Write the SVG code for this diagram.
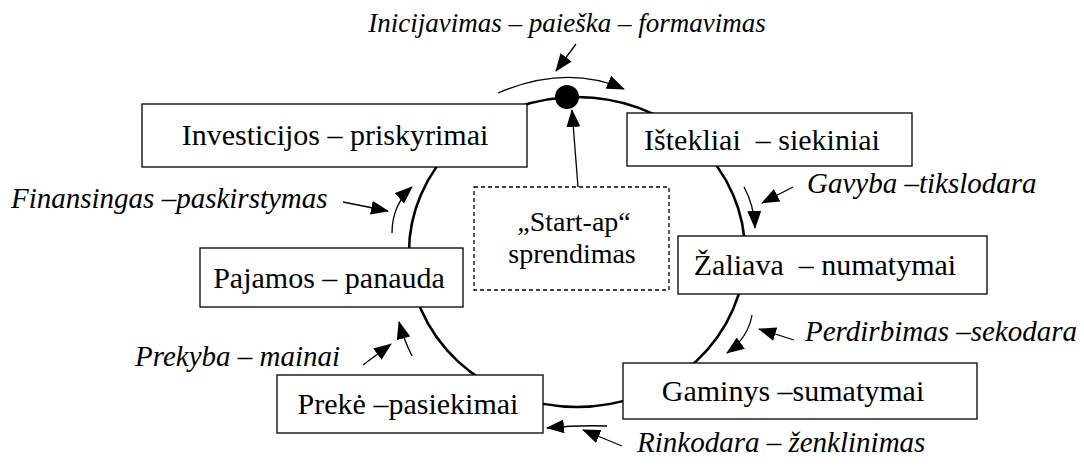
<svg xmlns="http://www.w3.org/2000/svg" width="1084" height="466" viewBox="0 0 1084 466">
<defs>
<style>
.box{fill:#fff;stroke:#000;stroke-width:1.3}
.dash{fill:#fff;stroke:#000;stroke-width:1.3;stroke-dasharray:4 3}
.t{font-family:"Liberation Serif","Times New Roman",serif;font-size:30px;fill:#000}
.s{font-family:"Liberation Serif","Times New Roman",serif;font-size:28px;fill:#000}
.i{font-family:"Liberation Serif","Times New Roman",serif;font-size:29px;font-style:italic;fill:#000}
.c{text-anchor:middle}
.ln{fill:none;stroke:#000;stroke-width:1.3}
</style>
<marker id="ah" markerUnits="userSpaceOnUse" markerWidth="18" markerHeight="14" viewBox="0 0 18 14" refX="17" refY="7" orient="auto">
<path d="M0,0 L18,7 L0,14 Z" fill="#000"/>
</marker>
</defs>
<g id="cycle">
<ellipse cx="577" cy="252" rx="168" ry="155" fill="none" stroke="#000" stroke-width="2.6"/>
</g>
<g id="title"><text class="i c" x="567" y="32" style="font-size:27px">Inicijavimas – paieška – formavimas</text></g>
<g id="start">
<circle cx="567" cy="97" r="12" fill="#000"/>
</g>
<g id="investicijos"><rect class="box" x="142" y="104" width="385" height="63"/><text class="t c" x="335" y="145">Investicijos – priskyrimai</text></g>
<g id="istekliai"><rect class="box" x="627" y="113" width="285" height="53"/><text class="t c" x="762" y="150" xml:space="preserve">Ištekliai  – siekiniai</text></g>
<g id="zaliava"><rect class="box" x="678" y="236" width="309" height="58"/><text class="t c" x="825" y="275" xml:space="preserve">Žaliava  – numatymai</text></g>
<g id="gaminys"><rect class="box" x="623" y="363" width="354" height="56"/><text class="t c" x="793" y="401">Gaminys –sumatymai</text></g>
<g id="preke"><rect class="box" x="277" y="375" width="266" height="58"/><text class="t c" x="408" y="414">Prekė –pasiekimai</text></g>
<g id="pajamos"><rect class="box" x="200" y="248" width="263" height="59"/><text class="t c" x="329" y="288">Pajamos – panauda</text></g>
<g id="startap"><rect class="dash" x="474" y="187" width="195" height="103"/><text class="s c" x="574" y="231">„Start-ap“</text><text class="s c" x="572" y="263">sprendimas</text></g>
<g id="labels">
<text class="i" x="11" y="208">Finansingas –paskirstymas</text>
<text class="i" x="807" y="193">Gavyba –tikslodara</text>
<text class="i" x="805" y="341">Perdirbimas –sekodara</text>
<text class="i" x="637" y="452">Rinkodara – ženklinimas</text>
<text class="i" x="135" y="366">Prekyba – mainai</text>
</g>
<g id="connectors">
<line class="ln" x1="578" y1="187" x2="572" y2="110" marker-end="url(#ah)"/>
<line class="ln" x1="576" y1="44" x2="556" y2="71" marker-end="url(#ah)"/>
<path class="ln" d="M498,93 Q566,64 624,89" marker-end="url(#ah)"/>
<line class="ln" x1="343" y1="202" x2="388" y2="211" marker-end="url(#ah)"/>
<path class="ln" d="M392,233 Q392,205 412,187" marker-end="url(#ah)"/>
<line class="ln" x1="793" y1="187" x2="762" y2="203" marker-end="url(#ah)"/>
<path class="ln" d="M744,187 Q754,205 755,228" marker-end="url(#ah)"/>
<line class="ln" x1="794" y1="340" x2="759" y2="329" marker-end="url(#ah)"/>
<path class="ln" d="M752,315 Q748,338 727,353" marker-end="url(#ah)"/>
<line class="ln" x1="622" y1="446" x2="583" y2="430" marker-end="url(#ah)"/>
<path class="ln" d="M607,426 Q578,425 547,428" marker-end="url(#ah)"/>
<line class="ln" x1="363" y1="365" x2="391" y2="344" marker-end="url(#ah)"/>
<path class="ln" d="M412,356 Q404,340 399,322" marker-end="url(#ah)"/>
</g>
</svg>
